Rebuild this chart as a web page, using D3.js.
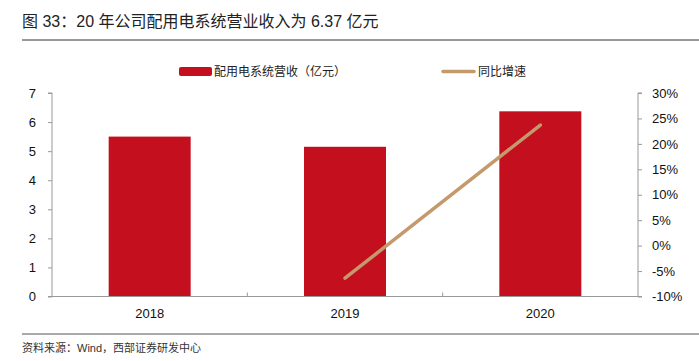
<!DOCTYPE html>
<html lang="zh">
  <head>
    <meta charset="utf-8">
    <title>配用电系统营收</title>
    <style>
      body { margin: 0; background: #fff; }
      text { font-family: "Liberation Sans", Arial, "Noto Sans CJK SC", sans-serif; }
    </style>
  </head>
  <body>
    <svg class="chart"></svg>

    <script src="https://d3js.org/d3.v7.min.js"></script>
    <script type="text/javascript">
      var years = ['2018', '2019', '2020'];
      var revenue = [5.5, 5.15, 6.37];
      var growth = [null, -0.064, 0.237];
      var leftTicks = [0, 1, 2, 3, 4, 5, 6, 7];
      var rightTicks = [-0.10, -0.05, 0, 0.05, 0.10, 0.15, 0.20, 0.25, 0.30];

      var w = 699, h = 361;
      var plotLeft = 52, plotRight = 638, plotTop = 93, plotBottom = 296.5;
      var barColor = '#c30f1e', lineColor = '#c49a6c';
      var cjk = '"Noto Sans CJK SC", sans-serif';

      var svg = d3.select('.chart').attr('width', w).attr('height', h);

      // title + rules
      svg.append('text')
         .attr('x', 22).attr('y', 27)
         .attr('font-family', cjk)
         .attr('font-size', 16)
         .attr('fill', '#222')
         .text('图 33：20 年公司配用电系统营业收入为 6.37 亿元');
      svg.append('line').attr('x1', 22).attr('x2', 699).attr('y1', 40).attr('y2', 40)
         .attr('stroke', '#333').attr('stroke-width', 1);
      svg.append('line').attr('x1', 22).attr('x2', 699).attr('y1', 334).attr('y2', 334)
         .attr('stroke', '#555').attr('stroke-width', 1);
      svg.append('text')
         .attr('x', 22).attr('y', 352)
         .attr('font-family', cjk)
         .attr('font-size', 11)
         .attr('fill', '#333')
         .text('资料来源：Wind，西部证券研发中心');

      var xc = d3.scalePoint().domain(years).range([plotLeft, plotRight]).padding(0.5);
      var y = d3.scaleLinear().domain([0, 7]).range([plotBottom, plotTop]);
      var y2 = d3.scaleLinear().domain([-0.10, 0.30]).range([plotBottom, plotTop]);
      var barW = 82;

      // bars
      svg.selectAll('rect.bar')
         .data(revenue)
         .enter()
         .append('rect')
         .attr('class', 'bar')
         .attr('x', function(d, i) { return xc(years[i]) - barW / 2; })
         .attr('y', function(d) { return y(d); })
         .attr('width', barW)
         .attr('height', function(d) { return plotBottom - y(d); })
         .attr('fill', barColor);

      // axes
      var axisColor = '#999';
      var gl = svg.append('g').attr('transform', 'translate(' + plotLeft + ',0)')
                  .call(d3.axisLeft(y).tickValues(leftTicks).tickSize(4).tickPadding(12)
                        .tickFormat(d3.format('d')));
      var gr = svg.append('g').attr('transform', 'translate(' + plotRight + ',0)')
                  .call(d3.axisRight(y2).tickValues(rightTicks).tickSize(4).tickPadding(10)
                        .tickFormat(function(d) { return Math.round(d * 100) + '%'; }));
      var gb = svg.append('g').attr('transform', 'translate(0,' + plotBottom + ')');
      gb.append('line').attr('x1', plotLeft).attr('x2', plotRight).attr('y1', 0).attr('y2', 0);
      [plotLeft + (plotRight - plotLeft) / 3, plotLeft + 2 * (plotRight - plotLeft) / 3].forEach(function(t) {
        gb.append('line').attr('x1', t).attr('x2', t).attr('y1', 0).attr('y2', -4);
      });
      years.forEach(function(yr) {
        gb.append('text').attr('x', xc(yr)).attr('y', 21)
          .attr('text-anchor', 'middle').text(yr);
      });
      [gl, gr, gb].forEach(function(g) {
        g.selectAll('path').attr('stroke', axisColor);
        g.selectAll('line').attr('stroke', axisColor);
        g.selectAll('text').attr('font-size', 13).attr('fill', '#111')
         .attr('font-family', '"Liberation Sans", Arial, sans-serif');
      });
      gl.selectAll('path.domain').attr('d', 'M-4,' + plotTop + 'H0V' + plotBottom + 'H-4');
      gr.selectAll('path.domain').attr('d', 'M4,' + plotTop + 'H0V' + plotBottom + 'H4');
      gr.selectAll('text').attr('text-anchor', 'start');

      // growth line
      var line = d3.line()
                   .defined(function(d) { return d !== null; })
                   .x(function(d, i) { return xc(years[i]); })
                   .y(function(d) { return y2(d); });
      svg.append('path')
         .datum(growth)
         .attr('d', line)
         .attr('fill', 'none')
         .attr('stroke', lineColor)
         .attr('stroke-width', 3.5)
         .attr('stroke-linecap', 'round');

      // legend
      svg.append('rect').attr('x', 179).attr('y', 67).attr('width', 33).attr('height', 9)
         .attr('rx', 2).attr('fill', barColor);
      svg.append('text').attr('x', 214).attr('y', 76).attr('font-family', cjk)
         .attr('font-size', 12).attr('fill', '#222').text('配用电系统营收（亿元）');
      svg.append('line').attr('x1', 443).attr('x2', 474).attr('y1', 71.5).attr('y2', 71.5)
         .attr('stroke', lineColor).attr('stroke-width', 3.5).attr('stroke-linecap', 'round');
      svg.append('text').attr('x', 478).attr('y', 76).attr('font-family', cjk)
         .attr('font-size', 12).attr('fill', '#222').text('同比增速');
    </script>
  </body>
</html>
